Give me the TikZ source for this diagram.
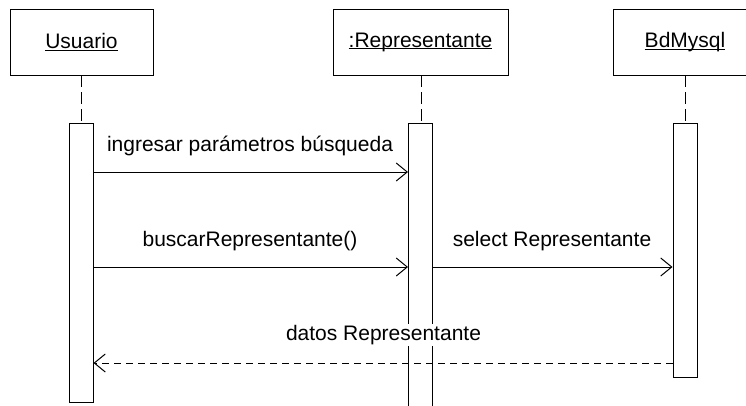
\documentclass[tikz,border=0pt]{standalone}
\usepackage{fontspec}
\setmainfont{Liberation Sans}
\usetikzlibrary{arrows.meta}
\newcommand\myul[1]{\leavevmode\setbox0\hbox{#1}\rlap{\rule[-2.2pt]{\wd0}{1.1pt}}\box0}
\begin{document}
\begin{tikzpicture}[x=1pt,y=-1pt,line width=1pt,
  every node/.style={font=\fontsize{21}{25}\selectfont, inner sep=0pt},
  objbox/.style={draw, fill=white, minimum height=66pt},
  actbox/.style={draw, fill=white, minimum width=24pt},
  lifeline/.style={dash pattern=on 12pt off 5pt},
  msg/.style={-{Straight Barb[length=11pt,width=18pt,line width=1pt]}},
  retmsg/.style={msg, dash pattern=on 7pt off 5pt},
  lbl/.style={fill=white, inner sep=1pt, anchor=base}]
\clip (0,0) rectangle (746,405);
\fill[white] (0,0) rectangle (746,405);
% lifelines
\coordinate (l1) at (81,75);
\coordinate (l2) at (421,75);
\coordinate (l3) at (685,75);
\coordinate (e1) at (81,123);
\coordinate (e2) at (421,123);
\coordinate (e3) at (685,123);
\draw[lifeline] (l1) -- (e1);
\draw[lifeline] (l2) -- (e2);
\draw[lifeline] (l3) -- (e3);
% object boxes
\node[objbox, minimum width=143pt] (usu) at (81.5,42) {\myul{Usuario}};
\node[objbox, minimum width=175pt] (rep) at (420.5,42) {\myul{:Representante}};
\node[objbox, minimum width=144pt] (bd) at (685,42) {\myul{BdMysql}};
% activations
\node[actbox, minimum height=279pt] (a1) at (81,262.5) {};
\node[actbox, minimum height=290pt] (a2) at (420.5,268) {};
\node[actbox, minimum height=254pt] (a3) at (685,250) {};
% messages
\draw[msg] (a1.east |- 0,172) -- (a2.west |- 0,172);
\draw[msg] (a1.east |- 0,267) -- (a2.west |- 0,267);
\draw[msg] (a2.east |- 0,267) -- (a3.west |- 0,267);
\draw[retmsg] (a3.west |- 0,363) -- (a1.east |- 0,363);
% labels
\node[lbl] (t1) at (250,151.5) {ingresar parámetros búsqueda};
\node[lbl] (t2) at (250,246.5) {buscarRepresentante()};
\node[lbl] (t3) at (552,246) {select Representante};
\node[lbl] (t4) at (383.5,340.5) {datos Representante};
\end{tikzpicture}
\end{document}
